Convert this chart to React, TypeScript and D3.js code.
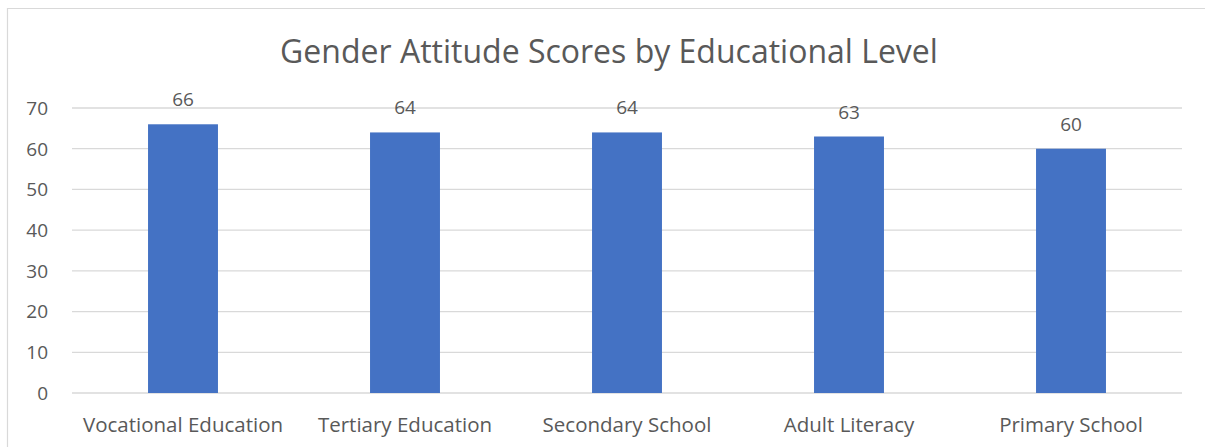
import React from "react";
import * as d3 from "d3";

const categories: string[] = [
  "Vocational Education",
  "Tertiary Education",
  "Secondary School",
  "Adult Literacy",
  "Primary School",
];
const scores: number[] = [66, 64, 64, 63, 60];
const yTicks: number[] = [0, 10, 20, 30, 40, 50, 60, 70];
const title = "Gender Attitude Scores by Educational Level";

const W = 1205;
const H = 447;
const plotLeft = 72;
const plotRight = 1182;
const plotTop = 108;
const plotBottom = 393;
const textColor = "#595959";
const font = "'Open Sans', 'Liberation Sans', sans-serif";

export default function App() {
  const x = d3
    .scaleBand<string>()
    .domain(categories)
    .range([plotLeft, plotRight])
    .paddingInner(0.685)
    .paddingOuter(0.3425);
  const y = d3.scaleLinear().domain([0, 70]).range([plotBottom, plotTop]);

  return (
    <svg
      width={W}
      height={H}
      style={{ position: "fixed", left: 0, top: 0, background: "#fff", overflow: "hidden" }}
      fontFamily={font}
    >
      <rect x={0} y={0} width={W} height={H} fill="#fff" />
      <path d={`M7.5,${H + 5}V8.5H${W + 5}`} fill="none" stroke="#D9D9D9" strokeWidth={1.2} />
      <text x={609} y={63} textAnchor="middle" fontSize={32} fill={textColor}>
        {title}
      </text>
      {yTicks.map((t) => (
        <g key={t}>
          <line x1={plotLeft} x2={plotRight} y1={y(t)} y2={y(t)} stroke="#D9D9D9" strokeWidth={1.3} />
          <text x={48} y={y(t)} dy="0.36em" textAnchor="end" fontSize={19} fill={textColor}>
            {t}
          </text>
        </g>
      ))}
      {categories.map((c, i) => (
        <g key={c}>
          <rect x={x(c)} y={y(scores[i])} width={x.bandwidth()} height={y(0) - y(scores[i])} fill="#4472C4" />
          <text
            x={(x(c) as number) + x.bandwidth() / 2}
            y={y(scores[i]) - 18}
            textAnchor="middle"
            fontSize={19}
            fill={textColor}
          >
            {scores[i]}
          </text>
          <text
            x={(x(c) as number) + x.bandwidth() / 2}
            y={432}
            textAnchor="middle"
            fontSize={20.5}
            fill={textColor}
          >
            {c}
          </text>
        </g>
      ))}
    </svg>
  );
}
